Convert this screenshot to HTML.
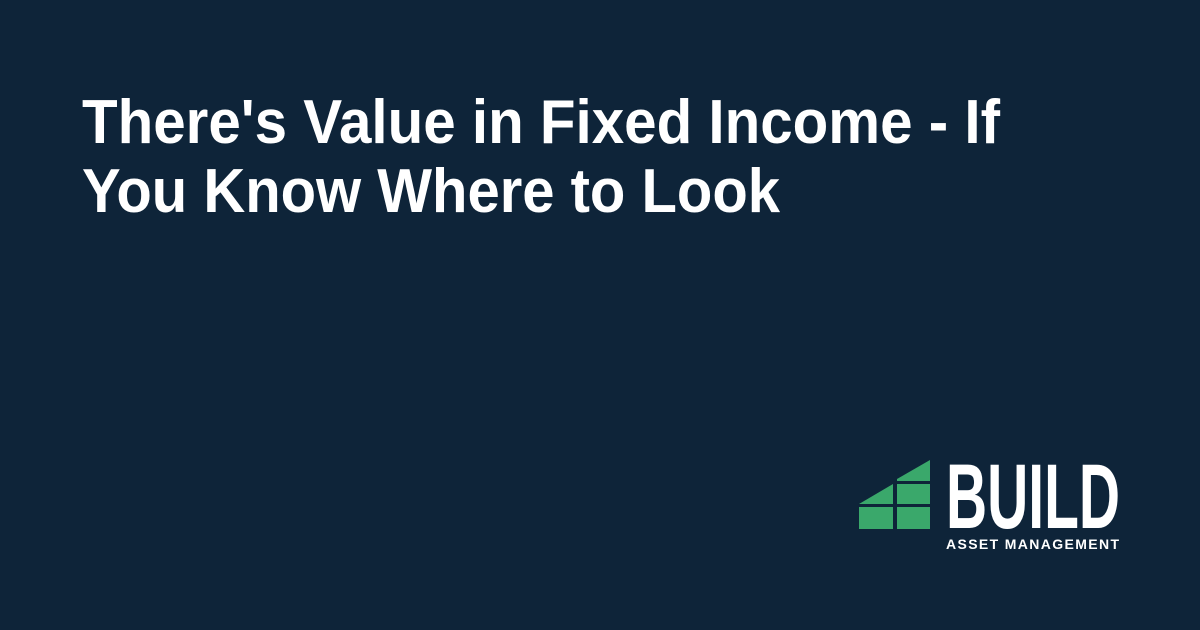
<!DOCTYPE html>
<html><head><meta charset="utf-8"><style>
html,body{margin:0;padding:0;background:#0e2439;}
svg{display:block}
</style></head><body>
<svg width="1200" height="630" viewBox="0 0 1200 630">
<rect width="1200" height="630" fill="#0e2439"/>
<g font-family="'Liberation Sans', sans-serif" font-weight="bold" fill="#ffffff" font-size="62">
<text x="82" y="143" textLength="918" lengthAdjust="spacingAndGlyphs">There's Value in Fixed Income - If</text>
<text x="82" y="212" textLength="698" lengthAdjust="spacingAndGlyphs">You Know Where to Look</text>
</g>
<g fill="#3aa86b">
<polygon points="897,479 930,460 930,481 897,481"/>
<rect x="897" y="484" width="33" height="20"/>
<polygon points="859,504 893,484 893,504"/>
<rect x="859" y="507" width="34" height="22"/>
<rect x="897" y="507" width="33" height="22"/>
</g>
<text x="946" y="528" font-family="'Liberation Sans Narrow','Liberation Sans',sans-serif" font-weight="bold" font-size="92" fill="#ffffff" textLength="174" lengthAdjust="spacingAndGlyphs">BUILD</text>
<text x="946" y="549" font-family="'Liberation Sans',sans-serif" font-weight="bold" font-size="14" fill="#ffffff" textLength="173" lengthAdjust="spacing">ASSET MANAGEMENT</text>
</svg>
</body></html>
